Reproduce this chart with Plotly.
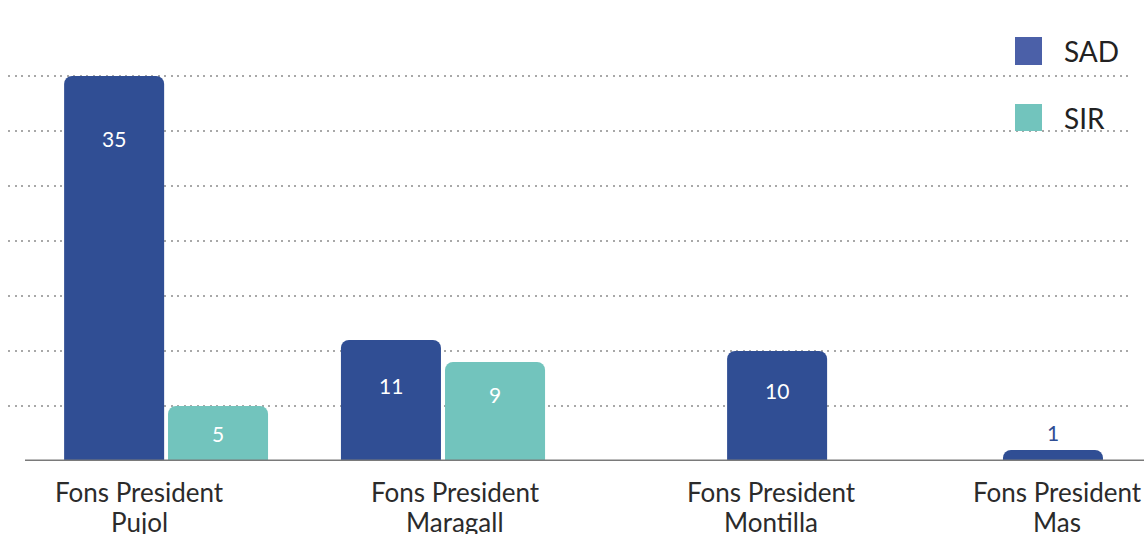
import plotly.graph_objects as go

# ---- data ----
categories = ["Fons President Pujol", "Fons President Maragall",
              "Fons President Montilla", "Fons President Mas"]
sad_values = [35, 11, 10, 1]
sir_values = [5, 9, None, None]
series_names = ["SAD", "SIR"]

# ---- styling ----
W_PX, H_PX = 1144, 534
M_L, M_R, M_T, M_B = 8, 14, 0, 73
PLOT_W = W_PX - M_L - M_R
PLOT_H = H_PX - M_T - M_B
X_RANGE = [-0.4146, 3.136]
Y_RANGE = [0, 41.9]

SAD_COLOR = "#304E94"
SIR_COLOR = "#72C4BD"
SAD_LEGEND = "#4B60A8"
BAR_W = 0.3165
sad_offsets = [-0.237, -0.361, -0.139, -0.266]
sir_offsets = [0.0918, -0.0316, 0, 0]
sad_label_dy = [-63, -46, -40, 18]
sir_label_dy = [-28, -33, 0, 0]
label_xshift = [0, 0, 0, -30]
LINE_DY = [-13, -42.5]
FONT = "Lato"


def px2x(px):
    return (px - M_L) / PLOT_W


def px2y(py):
    return (M_T + PLOT_H - py) / PLOT_H


fig = go.Figure()
fig.add_trace(go.Bar(x=categories, y=sad_values, name=series_names[0],
                     width=BAR_W, offset=sad_offsets,
                     marker=dict(color=SAD_COLOR, line=dict(width=0)),
                     showlegend=False))
fig.add_trace(go.Bar(x=categories, y=sir_values, name=series_names[1],
                     width=BAR_W, offset=sir_offsets,
                     marker=dict(color=SIR_COLOR, line=dict(width=0)),
                     showlegend=False))

annotations = []
# value labels
for vals, offs, dys in [(sad_values, sad_offsets, sad_label_dy),
                        (sir_values, sir_offsets, sir_label_dy)]:
    for i, v in enumerate(vals):
        if v is None:
            continue
        inside = dys[i] < 0
        annotations.append(dict(
            x=i + offs[i] + BAR_W / 2, y=v, xref="x", yref="y",
            text=str(v), showarrow=False, yanchor="middle",
            yshift=dys[i],
            font=dict(family=FONT, size=21,
                      color="white" if inside else SAD_COLOR)))

# category labels (two lines, explicit line spacing)
for i, c in enumerate(categories):
    parts = c.rsplit(" ", 1)
    for part, dy in zip(parts, LINE_DY):
        annotations.append(dict(
            x=i, y=0, xref="x", yref="y", text=part,
            showarrow=False, yanchor="top", yshift=dy,
            xshift=label_xshift[i],
            font=dict(family=FONT, size=26, color="#2b2b2b")))

# legend (drawn manually)
shapes = []
legend_items = [(series_names[0], SAD_LEGEND, 37, 65),
                (series_names[1], SIR_COLOR, 104, 131)]
for name, col, ytop, ybot in legend_items:
    shapes.append(dict(type="rect", xref="paper", yref="paper",
                       x0=px2x(1015), x1=px2x(1042),
                       y0=px2y(ybot), y1=px2y(ytop),
                       fillcolor=col, line=dict(width=0), layer="above"))
    annotations.append(dict(
        x=px2x(1062), y=px2y((ytop + ybot) / 2), xref="paper", yref="paper",
        xanchor="left", yanchor="middle", text=name, showarrow=False,
        font=dict(family=FONT, size=28, color="#222222")))

# baseline
shapes.append(dict(type="line", xref="paper", yref="y",
                   x0=px2x(25), x1=px2x(1144), y0=0, y1=0,
                   line=dict(color="#7a7a7a", width=3), layer="above"))

fig.update_layout(
    width=W_PX, height=H_PX,
    margin=dict(l=M_L, r=M_R, t=M_T, b=M_B),
    paper_bgcolor="white", plot_bgcolor="white",
    barmode="overlay", barcornerradius=8,
    showlegend=False,
    font=dict(family=FONT),
    xaxis=dict(range=X_RANGE, showticklabels=False, showgrid=False,
               zeroline=False, showline=False, type="category"),
    yaxis=dict(range=Y_RANGE, tickvals=list(range(5, 40, 5)),
               showticklabels=False, showgrid=True, gridcolor="#a8a8a8",
               gridwidth=2, griddash="2px,4.5px", zeroline=False,
               showline=False),
    annotations=annotations, shapes=shapes,
)

fig.write_html("out.html",
               config={"displayModeBar": False},
               post_script="document.body.style.margin='0px';"
                           "document.body.style.overflow='hidden';")
